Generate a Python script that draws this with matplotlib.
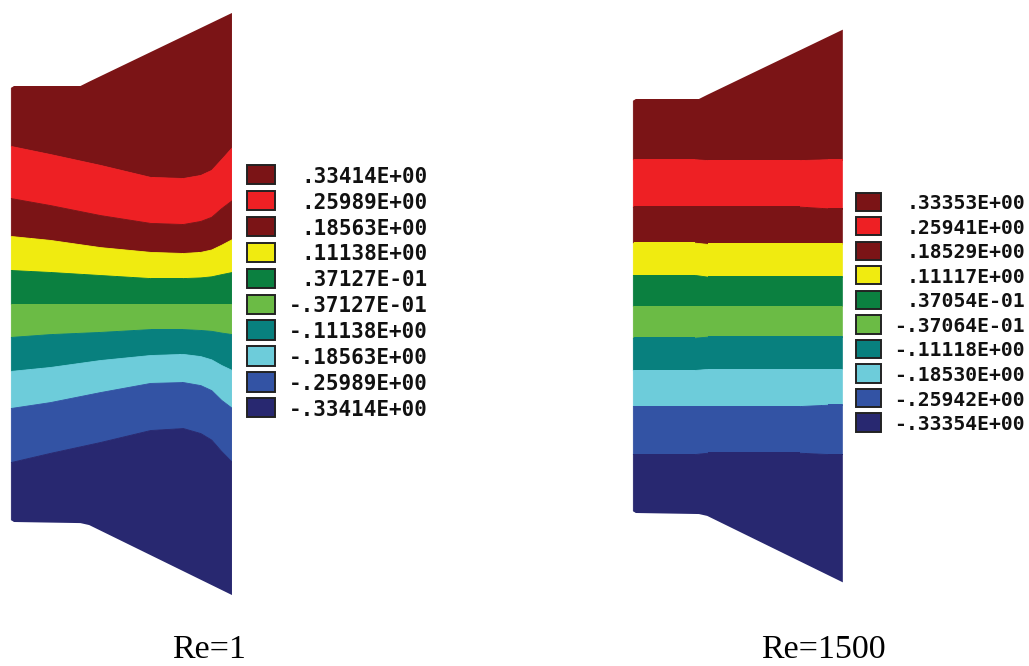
import numpy as np
import matplotlib
matplotlib.use("Agg")
import matplotlib.pyplot as plt
from matplotlib.patches import Polygon, Rectangle

# ── data ───────────────────────────────────────
# channel wall (units of inlet half-height)
wall_x = [0.0, 0.015, 0.32, 0.36, 1.015]
wall_top = [0.99, 1.0, 1.0, 1.02, 1.335]
wall_bot = [-0.99, -1.0, -1.005, -1.014, -1.335]

band_colors = ["#7b1416", "#ee2024", "#7b1416", "#f0eb10", "#0b8040",
               "#6bbb45", "#08807e", "#6dccda", "#3353a4", "#282870"]

# Re=1 : contour-band boundaries (top → bottom) at x stations
re1_x = [0.0, 0.18, 0.41, 0.64, 0.79, 0.87, 0.92, 0.966, 1.015]
re1_bounds = [
    [0.725, 0.688, 0.638, 0.583, 0.578, 0.592, 0.615, 0.665, 0.720],
    [0.486, 0.454, 0.408, 0.372, 0.367, 0.381, 0.400, 0.440, 0.477],
    [0.312, 0.294, 0.261, 0.239, 0.234, 0.239, 0.250, 0.272, 0.298],
    [0.156, 0.147, 0.133, 0.119, 0.119, 0.122, 0.127, 0.137, 0.147],
    [0.0, 0.0, 0.0, 0.0, 0.0, 0.0, 0.0, 0.0, 0.0],
    [-0.151, -0.138, -0.128, -0.115, -0.115, -0.119, -0.123, -0.131, -0.138],
    [-0.307, -0.289, -0.257, -0.234, -0.229, -0.239, -0.254, -0.280, -0.303],
    [-0.477, -0.450, -0.404, -0.362, -0.358, -0.372, -0.395, -0.440, -0.477],
    [-0.725, -0.683, -0.633, -0.578, -0.569, -0.592, -0.622, -0.675, -0.725],
]
re1_levels = [0.33414, 0.25989, 0.18563, 0.11138, 0.037127,
              -0.037127, -0.11138, -0.18563, -0.25989, -0.33414]

# Re=1500
re1500_x = [0.0, 0.30, 0.36, 0.81, 0.94, 1.015]
re1500_bounds = [
    [0.709, 0.709, 0.705, 0.705, 0.709, 0.709],
    [0.480, 0.480, 0.480, 0.480, 0.472, 0.472],
    [0.306, 0.306, 0.300, 0.300, 0.300, 0.300],
    [0.150, 0.150, 0.142, 0.142, 0.142, 0.142],
    [0.0, 0.0, 0.0, 0.0, 0.0, 0.0],
    [-0.153, -0.153, -0.148, -0.148, -0.148, -0.148],
    [-0.309, -0.309, -0.304, -0.304, -0.304, -0.304],
    [-0.483, -0.483, -0.483, -0.483, -0.477, -0.477],
    [-0.715, -0.715, -0.709, -0.709, -0.715, -0.715],
]
re1500_levels = [0.33353, 0.25941, 0.18529, 0.11117, 0.037054,
                 -0.037064, -0.11118, -0.18530, -0.25942, -0.33354]

titles = ["Re=1", "Re=1500"]

W, H = 1029, 666


def flabel(v):
    # fortran style  .33414E+00
    e = int(np.floor(np.log10(abs(v)))) + 1
    m = abs(v) / 10.0 ** e
    return ("-" if v < 0 else "") + f"{m:.5f}"[1:] + f"E{e:+03d}"


def make_axes(fig, px_box, x0, y0, scale):
    # px_box = (left, top, right, bottom) in image pixels
    l, t, r, b = px_box
    ax = fig.add_axes([l / W, (H - b) / H, (r - l) / W, (b - t) / H])
    ax.set_xlim((l - x0) / scale, (r - x0) / scale)
    ax.set_ylim((y0 - b) / scale, (y0 - t) / scale)
    ax.axis("off")
    return ax


def draw_panel(ax, xs, bounds, levels, leg, fsize):
    poly = np.column_stack([wall_x + wall_x[::-1], wall_top + wall_bot[::-1]])
    dom = Polygon(poly, closed=True, facecolor="none", edgecolor="none")
    ax.add_patch(dom)
    edges = [np.full(len(xs), 3.0)] + [np.array(b) for b in bounds] + [np.full(len(xs), -3.0)]
    for i, c in enumerate(band_colors):
        pc = ax.fill_between(xs, edges[i], edges[i + 1], facecolor=c,
                             edgecolor=c, linewidth=0.6)
        pc.set_clip_path(dom)

    lx, ly, lw, lh, dy, tx = leg
    for i, (v, c) in enumerate(zip(levels, band_colors)):
        yc = ly - i * dy
        ax.add_patch(Rectangle((lx, yc - lh / 2), lw, lh, facecolor=c,
                               edgecolor="#222222", linewidth=1.4))
        ax.text(tx, yc, flabel(v), ha="right", va="center_baseline",
                family="DejaVu Sans Mono", fontweight="bold",
                fontsize=fsize, color="#111111")


fig = plt.figure(figsize=(W / 100, H / 100), dpi=100)

ax1 = make_axes(fig, (0, 0, 440, 620), 10.7, 304, 218)
draw_panel(ax1, re1_x, re1_bounds, re1_levels,
           (1.086, 0.593, 0.126, 0.0885, 0.1188, 1.914), 15.0)

ax2 = make_axes(fig, (600, 0, 1029, 620), 632.7, 306, 207)
draw_panel(ax2, re1500_x, re1500_bounds, re1500_levels,
           (1.079, 0.504, 0.120, 0.0884, 0.1186, 1.895), 14.2)

for cx, t in zip([209, 823], titles):
    fig.text(cx / W, 0.5 / H, t, ha="center", va="bottom",
             family="Liberation Serif", fontsize=24.5, color="black")

fig.savefig("out.png", dpi=100)
